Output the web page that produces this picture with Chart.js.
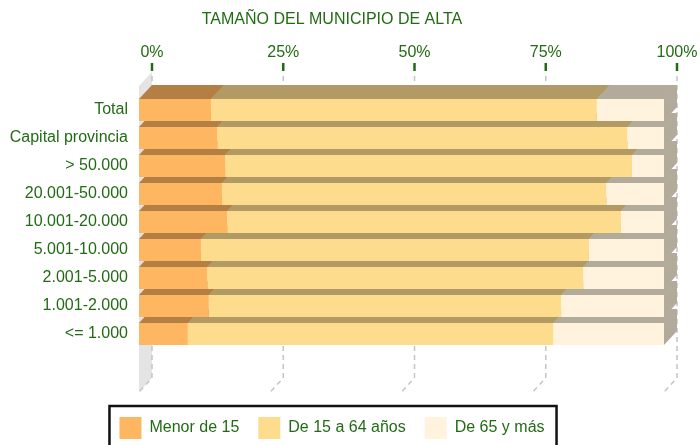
<!DOCTYPE html>
<html>
<head>
<meta charset="utf-8">
<script src="https://cdn.jsdelivr.net/npm/chart.js@4.4.0/dist/chart.umd.min.js"></script>
<style>
  html, body { margin: 0; padding: 0; background: #fff; }
</style>
</head>
<body>
<canvas id="edadChart" width="700" height="445"></canvas>
<script>
// data (percent of population)
var categories = ['Total', 'Capital provincia', '> 50.000', '20.001-50.000', '10.001-20.000',
                  '5.001-10.000', '2.001-5.000', '1.001-2.000', '<= 1.000'];
var menor15 = [13.7, 14.9, 16.4, 15.8, 16.8, 11.8, 13.0, 13.3, 9.3];
var de15a64 = [73.5, 78.1, 77.5, 73.2, 75.0, 73.9, 71.6, 67.1, 69.6];
var de65 = [12.8, 7.0, 6.1, 11.0, 8.2, 14.3, 15.4, 19.6, 21.1];
var seriesNames = ['Menor de 15', 'De 15 a 64 años', 'De 65 y más'];
var xTicks = [0, 25, 50, 75, 100];

var green = '#226b14';
var frontColors = ['#ffb660', '#fddc8e', '#fff3de'];
var topColors = ['#b47f45', '#b19a64', '#b2aa9b'];
var DX = 13, DY = 14;   // 3d depth

Chart.defaults.font.family = "'Liberation Sans', Arial, sans-serif";
Chart.defaults.font.size = 16;
Chart.defaults.color = green;

// draws the fake 3d parts: wall, grid, top and side faces, legend frame
var depthPlugin = {
  id: 'depth',
  beforeDatasetsDraw: function(chart) {
    var ctx = chart.ctx, area = chart.chartArea, xs = chart.scales.x;
    var frontTop = area.top - 10, frontBottom = area.bottom + 44;
    ctx.save();
    // left wall
    ctx.fillStyle = '#e4e4e4';
    ctx.beginPath();
    ctx.moveTo(area.left, frontTop);
    ctx.lineTo(area.left + DX, frontTop - DY);
    ctx.lineTo(area.left + DX, frontBottom - DY);
    ctx.lineTo(area.left, frontBottom);
    ctx.closePath();
    ctx.fill();
    // dashed grid on back plane + floor
    ctx.strokeStyle = '#c4c4c4';
    ctx.lineWidth = 1.5;
    ctx.setLineDash([5, 4]);
    xTicks.forEach(function(v) {
      var x = xs.getPixelForValue(v);
      ctx.beginPath();
      ctx.moveTo(x + DX, frontTop - DY + 4);
      ctx.lineTo(x + DX, frontBottom - DY);
      ctx.lineTo(x, frontBottom);
      ctx.stroke();
    });
    ctx.setLineDash([]);
    // green tick marks
    ctx.strokeStyle = green;
    ctx.lineWidth = 2.5;
    xTicks.forEach(function(v) {
      var x = xs.getPixelForValue(v) + DX;
      ctx.beginPath();
      ctx.moveTo(x, frontTop - DY - 9);
      ctx.lineTo(x, frontTop - DY - 1);
      ctx.stroke();
    });
    // top faces and right side
    var n = chart.data.datasets.length;
    chart.data.datasets.forEach(function(ds, di) {
      var meta = chart.getDatasetMeta(di);
      ctx.fillStyle = topColors[di];
      meta.data.forEach(function(el) {
        var l = Math.min(el.base, el.x), r = Math.max(el.base, el.x);
        var t = el.y - el.height / 2, b = el.y + el.height / 2;
        ctx.beginPath();
        ctx.moveTo(l, t); ctx.lineTo(r + 0.5, t); ctx.lineTo(r + DX + 0.5, t - DY); ctx.lineTo(l + DX, t - DY);
        ctx.closePath();
        ctx.fill();
        if (di === n - 1) {
          ctx.beginPath();
          ctx.moveTo(r, t); ctx.lineTo(r + DX, t - DY); ctx.lineTo(r + DX, b - DY); ctx.lineTo(r, b);
          ctx.closePath();
          ctx.fill();
        }
      });
    });
    ctx.restore();
  },
  afterDraw: function(chart) {
    var hb = chart.legend.legendHitBoxes;
    if (!hb || !hb.length) return;
    var ctx = chart.ctx;
    var first = hb[0], last = hb[hb.length - 1];
    var left = first.left - 10, right = last.left + last.width + 12;
    ctx.save();
    ctx.strokeStyle = '#111';
    ctx.lineWidth = 2.5;
    ctx.strokeRect(left, first.top - 11, right - left, 80);
    ctx.restore();
  }
};

var ctx = document.getElementById('edadChart').getContext('2d');
new Chart(ctx, {
  type: 'bar',
  data: {
    labels: categories,
    datasets: [
      { label: seriesNames[0], data: menor15, backgroundColor: frontColors[0], borderWidth: 0 },
      { label: seriesNames[1], data: de15a64, backgroundColor: frontColors[1], borderWidth: 0 },
      { label: seriesNames[2], data: de65, backgroundColor: frontColors[2], borderWidth: 0 }
    ]
  },
  options: {
    indexAxis: 'y',
    responsive: false,
    animation: false,
    devicePixelRatio: 1,
    barPercentage: 22 / 28,
    categoryPercentage: 1,
    layout: { padding: { left: 0, right: 36, top: 0, bottom: -4 } },
    scales: {
      x: {
        stacked: true,
        position: 'top',
        min: 0,
        max: 100,
        grid: { display: false, drawTicks: false },
        border: { display: false },
        ticks: {
          stepSize: 25,
          padding: 34,
          labelOffset: DX,
          color: green,
          callback: function(v) { return v + '%'; }
        },
        afterFit: function(s) { s.height = 66.8; s.paddingLeft = 0; s.paddingRight = 0; }
      },
      x2: {
        type: 'linear',
        position: 'bottom',
        display: true,
        grid: { display: false, drawTicks: false },
        border: { display: false },
        ticks: { display: false },
        afterFit: function(s) { s.height = 50; s.paddingLeft = 0; s.paddingRight = 0; }
      },
      y: {
        stacked: true,
        grid: { display: false, drawTicks: false },
        border: { display: false },
        ticks: { padding: 11, color: green },
        afterFit: function(s) { s.width = 139; s.paddingTop = 0; s.paddingBottom = 0; }
      }
    },
    plugins: {
      title: {
        display: true,
        text: 'TAMAÑO DEL MUNICIPIO DE ALTA',
        color: green,
        font: { size: 16, weight: 'normal' },
        padding: { top: 10, bottom: 0 }
      },
      legend: {
        position: 'bottom',
        labels: { boxWidth: 22, boxHeight: 22, padding: 19, color: green, font: { size: 16 } }
      },
      tooltip: { enabled: false }
    }
  },
  plugins: [depthPlugin]
});
</script>
</body>
</html>
